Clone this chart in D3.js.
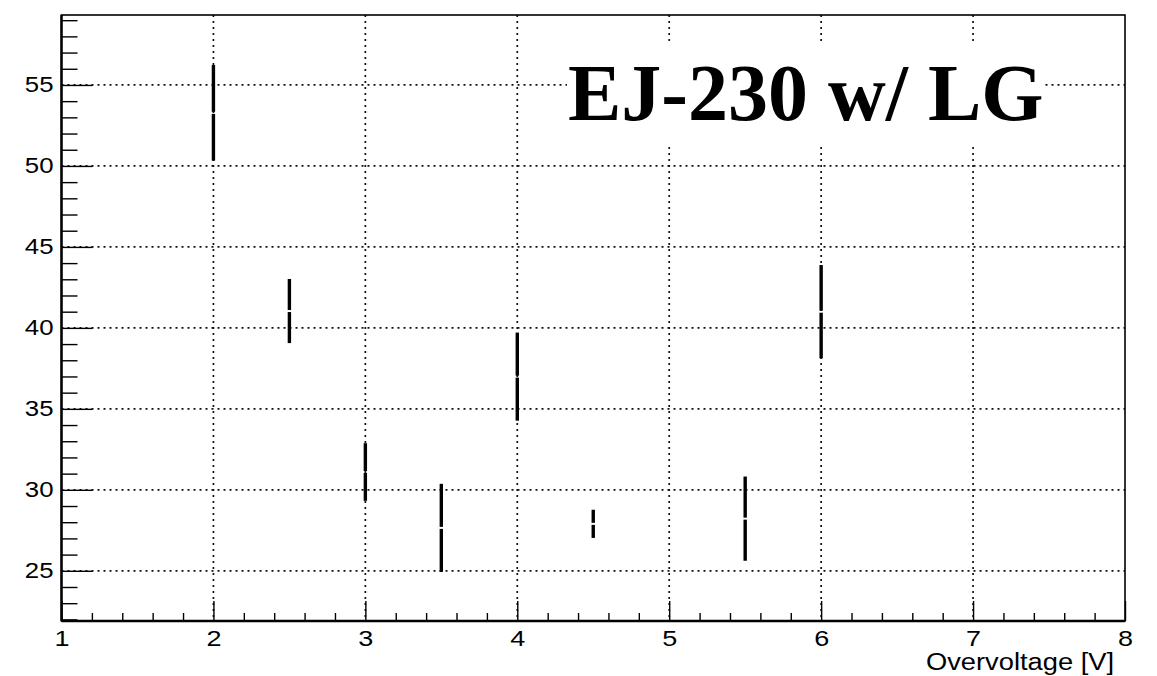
<!DOCTYPE html>
<html>
<head>
<meta charset="utf-8">
<script src="https://cdn.jsdelivr.net/npm/d3@7"></script>
<style>
	body { margin: 0; background: #fff; }
	svg { display: block; }
	.axis text { font-family: 'Liberation Sans', Arial, sans-serif; fill: #000; }
</style>
</head>
<body>
<div id="chart"></div>
<script>
// measurements
var xVals = [2, 2.5, 3, 3.5, 4, 4.5, 5.5, 6];
var yVals = [53.28, 41.04, 31.1, 27.65, 36.99, 27.9, 28.22, 41.0];
var yErr = [2.95, 1.98, 1.78, 2.72, 2.72, 0.87, 2.6, 2.88];

var xMajor = [1, 2, 3, 4, 5, 6, 7, 8];
var yMajor = [25, 30, 35, 40, 45, 50, 55];
var titleText = 'EJ-230 w/ LG';
var xTitle = 'Overvoltage [V]';

var width = 1157;
var height = 676;
var fLeft = 61.5, fRight = 1125, fTop = 15, fBottom = 621;
var stretch = 1.2; // sans labels in the reference are a bit wider than Arial

var xScale = d3.scaleLinear().domain([1, 8]).range([fLeft, fRight]);
var yScale = d3.scaleLinear().domain([21.9, 59.32]).range([fBottom, fTop]);

var xMinor = d3.range(10, 81, 2).map(d => d / 10).filter(d => xMajor.indexOf(d) < 0);
var yMinor = d3.range(22, 60).filter(d => yMajor.indexOf(d) < 0);

var svg = d3
	.select('#chart')
	.append('svg')
	.attr('width', width)
	.attr('height', height);

/* grid */
var grid = svg.append('g').attr('class', 'grid');
grid.selectAll('.gx')
	.data(xMajor.slice(1, -1))
	.enter()
	.append('line')
	.attr('x1', d => xScale(d))
	.attr('x2', d => xScale(d))
	.attr('y1', fTop)
	.attr('y2', fBottom)
	.attr('stroke', '#111')
	.attr('stroke-width', 1.7)
	.attr('stroke-dasharray', '2,4');
grid.selectAll('.gy')
	.data(yMajor)
	.enter()
	.append('line')
	.attr('x1', fLeft)
	.attr('x2', fRight)
	.attr('y1', d => yScale(d))
	.attr('y2', d => yScale(d))
	.attr('stroke', '#111')
	.attr('stroke-width', 1.7)
	.attr('stroke-dasharray', '2,4');

/* title box */
svg.append('rect')
	.attr('x', 567)
	.attr('y', 42)
	.attr('width', 478)
	.attr('height', 101)
	.attr('fill', '#fff');
svg.append('text')
	.attr('x', 568)
	.attr('y', 120)
	.attr('font-family', "'Liberation Serif', 'Times New Roman', serif")
	.attr('font-weight', 'bold')
	.attr('font-size', 80)
	.attr('fill', '#000')
	.text(titleText);

/* axes */
var xAxisMajor = d3.axisBottom(xScale).tickValues(xMajor).tickSize(-20).tickPadding(9).tickFormat(d3.format('d'));
var xAxisMinor = d3.axisBottom(xScale).tickValues(xMinor).tickSize(-8).tickFormat('');
var yAxisMajor = d3.axisLeft(yScale).tickValues(yMajor).tickSize(-31).tickPadding(8).tickFormat(d3.format('d'));
var yAxisMinor = d3.axisLeft(yScale).tickValues(yMinor).tickSize(-16).tickFormat('');

function style(g, size) {
	g.select('.domain').remove();
	g.selectAll('line').attr('stroke', '#000').attr('stroke-width', 1.4);
	g.selectAll('text')
		.attr('font-size', size)
		.attr('font-family', "'Liberation Sans', Arial, sans-serif")
		.each(function() {
			var w = this.getComputedTextLength();
			if (w > 0) {
				d3.select(this)
					.attr('textLength', w * stretch)
					.attr('lengthAdjust', 'spacingAndGlyphs');
			}
		});
}

svg.append('g').attr('class', 'x axis').attr('transform', `translate(0, ${fBottom})`).call(xAxisMajor).call(g => style(g, 22.5));
svg.append('g').attr('class', 'x axis').attr('transform', `translate(0, ${fBottom})`).call(xAxisMinor).call(g => style(g, 22.5));
svg.append('g').attr('class', 'y axis').attr('transform', `translate(${fLeft}, 0)`).call(yAxisMajor).call(g => style(g, 21.5));
svg.append('g').attr('class', 'y axis').attr('transform', `translate(${fLeft}, 0)`).call(yAxisMinor).call(g => style(g, 21.5));

svg.append('text')
	.attr('class', 'axis')
	.attr('x', 1114)
	.attr('y', 669.5)
	.attr('text-anchor', 'end')
	.attr('font-family', "'Liberation Sans', Arial, sans-serif")
	.attr('font-size', 23.5)
	.attr('textLength', 188)
	.attr('lengthAdjust', 'spacingAndGlyphs')
	.text(xTitle);

/* frame */
svg.append('rect')
	.attr('x', fLeft)
	.attr('y', fTop)
	.attr('width', fRight - fLeft)
	.attr('height', fBottom - fTop)
	.attr('fill', 'none')
	.attr('stroke', '#000')
	.attr('stroke-width', 1.6);
svg.append('line')
	.attr('x1', fLeft).attr('x2', fLeft)
	.attr('y1', fTop).attr('y2', fBottom)
	.attr('stroke', '#000').attr('stroke-width', 2.4);
svg.append('line')
	.attr('x1', fLeft).attr('x2', fRight)
	.attr('y1', fBottom).attr('y2', fBottom)
	.attr('stroke', '#000').attr('stroke-width', 2.4);

/* error bars */
var pts = xVals.map((x, i) => ({ x: x, y: yVals[i], e: yErr[i] }));
var bars = svg.append('g').attr('class', 'bars');
var gap = 1;
bars.selectAll('.up')
	.data(pts)
	.enter()
	.append('line')
	.attr('x1', d => xScale(d.x))
	.attr('x2', d => xScale(d.x))
	.attr('y1', d => yScale(d.y) - gap)
	.attr('y2', d => yScale(d.y + d.e))
	.attr('stroke', '#000')
	.attr('stroke-width', 3.4);
bars.selectAll('.down')
	.data(pts)
	.enter()
	.append('line')
	.attr('x1', d => xScale(d.x))
	.attr('x2', d => xScale(d.x))
	.attr('y1', d => yScale(d.y) + gap)
	.attr('y2', d => yScale(d.y - d.e))
	.attr('stroke', '#000')
	.attr('stroke-width', 3.4);
</script>
</body>
</html>
